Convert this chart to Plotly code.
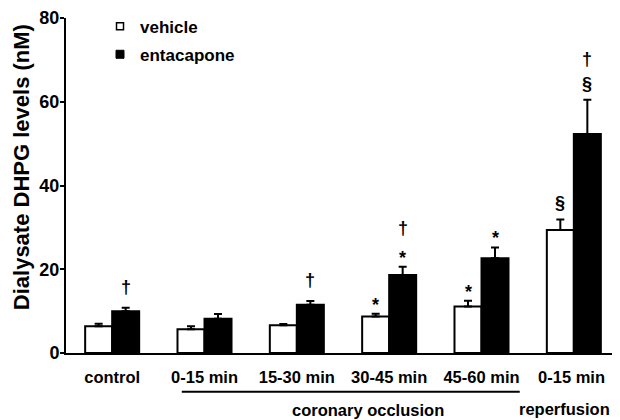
import plotly.graph_objects as go

categories = ["control", "0-15 min", "15-30 min", "30-45 min", "45-60 min", "0-15 min "]
vehicle = [6.4, 5.7, 6.6, 8.7, 11.1, 29.4]
vehicle_err = [0.6, 0.7, 0.3, 0.7, 1.4, 2.5]
entacapone = [10.0, 8.2, 11.5, 18.6, 22.6, 52.3]
entacapone_err = [0.8, 1.1, 0.9, 2.0, 2.6, 8.2]
vehicle_marks = [[], [], [], ["*"], ["*"], ["§"]]
entacapone_marks = [["†"], [], ["†"], ["*", "†"], ["*"], ["§", "†"]]
y_ticks = [0, 20, 40, 60, 80]

FONT = "Liberation Sans, Arial, sans-serif"
BOLD = "bold"

fig = go.Figure()
fig.add_trace(go.Bar(
    name="vehicle", x=list(range(len(categories))), y=vehicle, showlegend=False,
    marker=dict(color="white", line=dict(color="black", width=2)),
    error_y=dict(type="data", symmetric=False, array=vehicle_err,
                 arrayminus=[0] * len(vehicle), color="black", thickness=2, width=4),
))
fig.add_trace(go.Bar(
    name="entacapone", x=list(range(len(categories))), y=entacapone, showlegend=False,
    marker=dict(color="black", line=dict(color="black", width=2)),
    error_y=dict(type="data", symmetric=False, array=entacapone_err,
                 arrayminus=[0] * len(entacapone), color="black", thickness=2, width=4),
))
# legend entries (small square symbols as in the original)
fig.add_trace(go.Scatter(name="vehicle", x=[None], y=[None], mode="markers",
                         marker=dict(symbol="square", size=7, color="white",
                                     line=dict(color="black", width=1.5)),
                         legendgroup="a"))
fig.add_trace(go.Scatter(name="entacapone", x=[None], y=[None], mode="markers",
                         marker=dict(symbol="square", size=8, color="black",
                                     line=dict(color="black", width=1)),
                         legendgroup="b"))

bargap = 0.415
half = (1 - bargap) / 4
first_visual = {"*": 13, "†": 20, "§": 14.5}
glyph_adj = {"*": -4, "†": 1, "§": 1.5}
annotations = []
for i in range(len(categories)):
    for vals, errs, marks, off in ((vehicle, vehicle_err, vehicle_marks, -half),
                                   (entacapone, entacapone_err, entacapone_marks, half)):
        visual = 0
        for k, m in enumerate(marks[i]):
            visual = first_visual[m] if k == 0 else visual + 25
            annotations.append(dict(
                x=i + off, y=vals[i] + errs[i], xref="x", yref="y",
                text=m, showarrow=False, xanchor="center", yanchor="middle",
                yshift=visual + glyph_adj[m],
                font=dict(family=FONT, size=18, color="black", weight=BOLD)))

annotations.append(dict(x=0.545, y=-0.170, xref="paper", yref="paper", text="coronary occlusion",
                        showarrow=False, xanchor="center", yanchor="middle",
                        font=dict(family=FONT, size=16.5, color="black", weight=BOLD)))
annotations.append(dict(x=0.9007, y=-0.167, xref="paper", yref="paper", text="reperfusion",
                        showarrow=False, xanchor="center", yanchor="middle",
                        font=dict(family=FONT, size=16.5, color="black", weight=BOLD)))
annotations.append(dict(x=-0.081, y=0.555, xref="paper", yref="paper",
                        text="Dialysate DHPG levels (nM)", textangle=-90,
                        showarrow=False, xanchor="center", yanchor="middle",
                        font=dict(family=FONT, size=22, color="black", weight=BOLD)))

fig.update_layout(
    width=612, height=412,
    margin=dict(l=58, r=0, t=10, b=67),
    paper_bgcolor="white", plot_bgcolor="white",
    barmode="group", bargap=bargap, bargroupgap=0,
    showlegend=True,
    legend=dict(x=0.0614, y=1.028, xanchor="left", yanchor="top", tracegroupgap=3,
                font=dict(family=FONT, size=17, color="black", weight=BOLD),
                bgcolor="rgba(0,0,0,0)", itemwidth=30),
    annotations=annotations,
    shapes=[dict(type="line", xref="paper", yref="paper", x0=0.209, x1=0.819,
                 y0=-0.116, y1=-0.116, line=dict(color="black", width=2))],
    font=dict(family=FONT, color="black"),
)
fig.update_xaxes(
    tickmode="array", tickvals=list(range(len(categories))), ticktext=categories,
    range=[-0.5, 5.5], showline=True, linecolor="black", linewidth=2,
    ticks="", showgrid=False, zeroline=False, automargin=False,
    ticklabelstandoff=8,
    tickfont=dict(family=FONT, size=16.5, color="black", weight=BOLD),
)
fig.update_yaxes(
    range=[0, 80], tickvals=y_ticks, showline=True, linecolor="black",
    linewidth=2, ticks="outside", ticklen=4, tickwidth=2, tickcolor="black",
    showgrid=False, zeroline=False, automargin=False,
    ticklabelstandoff=-3,
    tickfont=dict(family=FONT, size=18, color="black", weight=BOLD),
)

fig.write_html("out.html")
